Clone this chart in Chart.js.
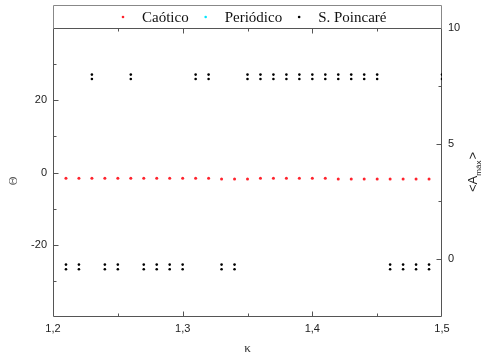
<!DOCTYPE html>
<html>
<head>
<meta charset="utf-8">
<script src="https://cdn.jsdelivr.net/npm/chart.js@4/dist/chart.umd.min.js"></script>
<style>
  html, body { margin: 0; padding: 0; background: #fff; }
  #wrap { width: 494px; height: 359px; }
</style>
</head>
<body>
<div id="wrap"><canvas id="c" width="494" height="359"></canvas></div>
<script>
// Axis ticks and their labels
const kappaTicks = [1.2, 1.3, 1.4, 1.5];
const kappaTickLabels = ['1,2', '1,3', '1,4', '1,5'];
const kappaMinor = [1.25, 1.35, 1.45];
const thetaTicks = [-20, 0, 20];
const thetaTickLabels = ['-20', '0', '20'];
const thetaMinor = [-30, -10, 10, 30];
const ampTicks = [0, 5, 10];
const ampTickLabels = ['0', '5', '10'];
const ampMinor = [2.5, 7.5];

// Series
const seriesNames = ['Caótico', 'Periódico', 'S. Poincaré'];

const caoticoKappa = [1.21, 1.22, 1.23, 1.24, 1.25, 1.26, 1.27, 1.28, 1.29, 1.30,
                      1.31, 1.32, 1.33, 1.34, 1.35, 1.36, 1.37, 1.38, 1.39, 1.40,
                      1.41, 1.42, 1.43, 1.44, 1.45, 1.46, 1.47, 1.48, 1.49];
const caoticoAmp = [3.50, 3.50, 3.50, 3.50, 3.50, 3.50, 3.50, 3.50, 3.50, 3.50,
                    3.50, 3.50, 3.47, 3.47, 3.47, 3.50, 3.50, 3.50, 3.50, 3.50,
                    3.50, 3.47, 3.47, 3.47, 3.47, 3.47, 3.47, 3.47, 3.47];

const periodicoKappa = [];
const periodicoAmp = [];

const poincareKappa = [1.21, 1.21, 1.22, 1.22, 1.23, 1.23, 1.24, 1.24, 1.25, 1.25,
                       1.26, 1.26, 1.27, 1.27, 1.28, 1.28, 1.29, 1.29, 1.30, 1.30,
                       1.31, 1.31, 1.32, 1.32, 1.33, 1.33, 1.34, 1.34, 1.35, 1.35,
                       1.36, 1.36, 1.37, 1.37, 1.38, 1.38, 1.39, 1.39, 1.40, 1.40,
                       1.41, 1.41, 1.42, 1.42, 1.43, 1.43, 1.44, 1.44, 1.45, 1.45,
                       1.46, 1.46, 1.47, 1.47, 1.48, 1.48, 1.49, 1.49, 1.50, 1.50];
const poincareTheta = [-25.5, -26.8, -25.5, -26.8, 27.1, 25.9, -25.5, -26.8, -25.5, -26.8,
                       27.1, 25.9, -25.5, -26.8, -25.5, -26.8, -25.5, -26.8, -25.5, -26.8,
                       27.1, 25.9, 27.1, 25.9, -25.5, -26.8, -25.5, -26.8, 27.1, 25.9,
                       27.1, 25.9, 27.1, 25.9, 27.1, 25.9, 27.1, 25.9, 27.1, 25.9,
                       27.1, 25.9, 27.1, 25.9, 27.1, 25.9, 27.1, 25.9, 27.1, 25.9,
                       -25.5, -26.8, -25.5, -26.8, -25.5, -26.8, -25.5, -26.8, 27.1, 25.9];

const colors = ['rgb(255,35,45)', 'rgb(0,230,255)', '#000000'];

const pts = (xs, ys) => xs.map((x, i) => ({ x: x, y: ys[i] }));

const tickFont = { family: '"Liberation Sans", Arial, sans-serif', size: 11 };
const tickColor = '#222';
const frameColor = '#555';

// Frame, inward tick marks, legend box and axis titles
const decorPlugin = {
  id: 'decor',
  beforeDatasetsDraw(chart) {
    const { ctx, chartArea: a, scales } = chart;
    ctx.save();
    ctx.strokeStyle = frameColor;
    ctx.lineWidth = 1;
    ctx.beginPath();
    ctx.rect(a.left + 0.5, a.top + 0.5, a.right - a.left - 1, a.bottom - a.top - 1);
    ctx.stroke();

    const tick = (x1, y1, x2, y2) => {
      ctx.moveTo(Math.round(x1) + 0.5, Math.round(y1) + 0.5);
      ctx.lineTo(Math.round(x2) + 0.5, Math.round(y2) + 0.5);
    };
    const inside = (p, lo, hi) => p > lo + 2 && p < hi - 2;
    ctx.beginPath();
    kappaTicks.concat(kappaMinor).forEach((v, i) => {
      const len = i < kappaTicks.length ? 5 : 3;
      const x = scales.x.getPixelForValue(v);
      if (!inside(x, a.left, a.right)) return;
      tick(x, a.bottom - 1, x, a.bottom - 1 - len);
      tick(x, a.top, x, a.top + len);
    });
    thetaTicks.concat(thetaMinor).forEach((v, i) => {
      const len = i < thetaTicks.length ? 5 : 3;
      const y = scales.y.getPixelForValue(v);
      if (!inside(y, a.top, a.bottom)) return;
      tick(a.left, y, a.left + len, y);
    });
    ampTicks.concat(ampMinor).forEach((v, i) => {
      const len = i < ampTicks.length ? 5 : 3;
      const y = scales.y1.getPixelForValue(v);
      if (!inside(y, a.top, a.bottom)) return;
      tick(a.right - 1, y, a.right - 1 - len, y);
    });
    ctx.stroke();
    ctx.restore();
  },
  afterDraw(chart) {
    const { ctx, chartArea: a } = chart;
    ctx.save();

    // legend box above the plot
    ctx.strokeStyle = '#888';
    ctx.lineWidth = 1;
    ctx.beginPath();
    ctx.moveTo(a.left + 0.5, a.top);
    ctx.lineTo(a.left + 0.5, 5.5);
    ctx.lineTo(a.right - 0.5, 5.5);
    ctx.lineTo(a.right - 0.5, a.top);
    ctx.stroke();

    ctx.font = '15px "Liberation Serif", "Times New Roman", serif';
    ctx.textBaseline = 'middle';
    ctx.textAlign = 'left';
    let x = a.left + 69;
    const ly = 17;
    chart.data.datasets.forEach((ds) => {
      ctx.fillStyle = ds.backgroundColor;
      ctx.beginPath();
      ctx.arc(x + 1, ly, 1.3, 0, Math.PI * 2);
      ctx.fill();
      ctx.fillStyle = '#111';
      ctx.fillText(ds.label, x + 20, ly + 1);
      x += 20 + ctx.measureText(ds.label).width + 16;
    });

    // axis titles
    ctx.fillStyle = '#333';
    ctx.textAlign = 'center';
    ctx.font = '13px "Liberation Serif", "Times New Roman", serif';
    ctx.fillText('κ', (a.left + a.right) / 2, 349);

    ctx.save();
    ctx.translate(14, 181);
    ctx.rotate(-Math.PI / 2);
    ctx.font = '12px "Liberation Serif", "Times New Roman", serif';
    ctx.fillStyle = '#555';
    ctx.fillText('Θ', 0, 0);
    ctx.restore();

    // <A_máx> with subscript
    ctx.save();
    ctx.translate(477, 172);
    ctx.rotate(-Math.PI / 2);
    ctx.textAlign = 'left';
    ctx.textBaseline = 'alphabetic';
    ctx.fillStyle = '#222';
    const big = '13px "Liberation Sans", Arial, sans-serif';
    const small = '8px "Liberation Sans", Arial, sans-serif';
    ctx.font = big;
    const w1 = ctx.measureText('<A').width;
    ctx.font = small;
    const w2 = ctx.measureText('máx').width;
    ctx.font = big;
    const w3 = ctx.measureText('>').width;
    const total = w1 + w2 + w3 + 1;
    let tx = -total / 2;
    ctx.fillText('<A', tx, 0);
    tx += w1;
    ctx.font = small;
    ctx.fillText('máx', tx, 4);
    tx += w2 + 1;
    ctx.font = big;
    ctx.fillText('>', tx, 0);
    ctx.restore();

    ctx.restore();
  }
};

new Chart(document.getElementById('c'), {
  type: 'scatter',
  data: {
    datasets: [
      {
        label: seriesNames[0],
        data: pts(caoticoKappa, caoticoAmp),
        yAxisID: 'y1',
        backgroundColor: colors[0],
        borderColor: colors[0],
        pointRadius: 1.5,
        borderWidth: 0,
        clip: 0
      },
      {
        label: seriesNames[1],
        data: pts(periodicoKappa, periodicoAmp),
        yAxisID: 'y1',
        backgroundColor: colors[1],
        borderColor: colors[1],
        pointRadius: 1.5,
        borderWidth: 0,
        clip: 0
      },
      {
        label: seriesNames[2],
        data: pts(poincareKappa, poincareTheta),
        yAxisID: 'y',
        backgroundColor: colors[2],
        borderColor: colors[2],
        pointRadius: 1.3,
        borderWidth: 0,
        clip: 0
      }
    ]
  },
  options: {
    responsive: false,
    animation: false,
    devicePixelRatio: 1,
    layout: { padding: { top: 28, left: 0, right: 0, bottom: 0 } },
    plugins: {
      legend: { display: false },
      tooltip: { enabled: false }
    },
    scales: {
      x: {
        type: 'linear',
        position: 'bottom',
        min: 1.2,
        max: 1.5,
        grid: { display: false, drawTicks: false },
        border: { display: false },
        afterBuildTicks: (s) => { s.ticks = kappaTicks.map(v => ({ value: v })); },
        afterFit: (s) => { s.height = 42; },
        ticks: {
          autoSkip: false,
          maxRotation: 0,
          padding: 5,
          font: tickFont,
          color: tickColor,
          callback: (v, i) => kappaTickLabels[i]
        }
      },
      y: {
        type: 'linear',
        position: 'left',
        min: -40,
        max: 40,
        grid: { display: false, drawTicks: false },
        border: { display: false },
        afterBuildTicks: (s) => { s.ticks = thetaTicks.map(v => ({ value: v })); },
        afterFit: (s) => { s.width = 53; },
        ticks: {
          autoSkip: false,
          padding: 6,
          font: tickFont,
          color: tickColor,
          callback: (v, i) => thetaTickLabels[i]
        }
      },
      y1: {
        type: 'linear',
        position: 'right',
        min: -2.5,
        max: 10,
        grid: { display: false, drawTicks: false },
        border: { display: false },
        afterBuildTicks: (s) => { s.ticks = ampTicks.map(v => ({ value: v })); },
        afterFit: (s) => { s.width = 52; },
        ticks: {
          autoSkip: false,
          padding: 6,
          font: tickFont,
          color: tickColor,
          callback: (v, i) => ampTickLabels[i]
        }
      }
    }
  },
  plugins: [decorPlugin]
});
</script>
</body>
</html>
